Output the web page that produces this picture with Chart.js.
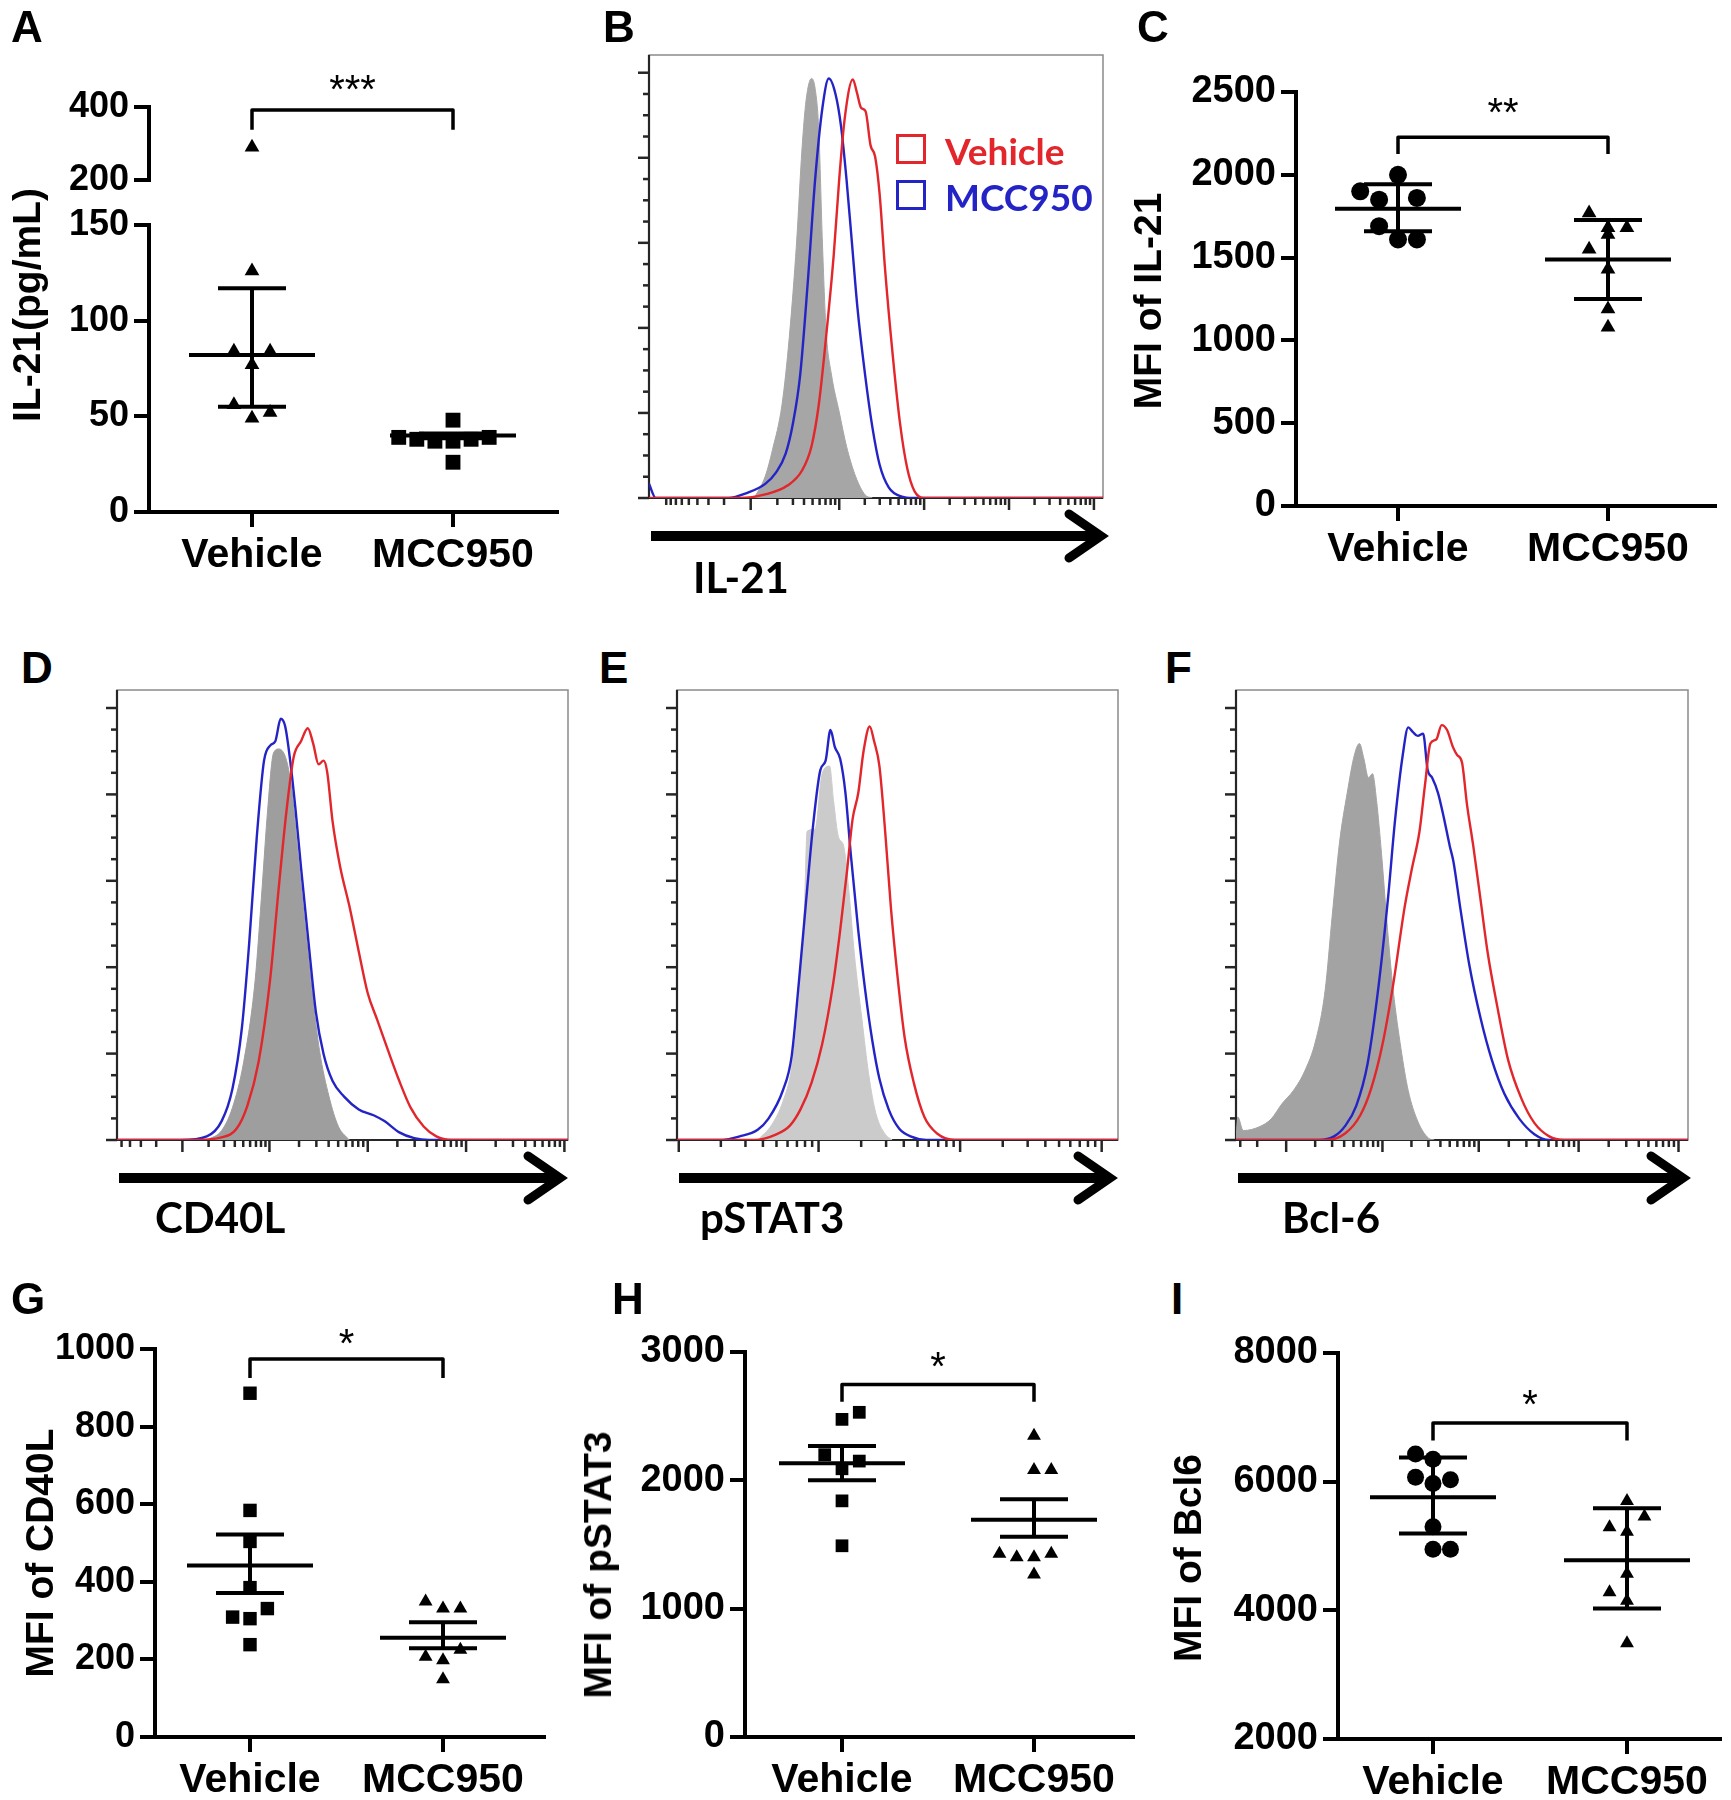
<!DOCTYPE html>
<html>
<head>
<meta charset="utf-8">
<title>IL-21 / Tfh panels</title>
<script src="https://cdn.jsdelivr.net/npm/chart.js@4.4.1/dist/chart.umd.min.js"></script>
<style>
  html, body { margin: 0; padding: 0; background: #fff; }
  #fig { position: relative; width: 1731px; height: 1800px; overflow: hidden; background: #fff; }
  #fig canvas { position: absolute; }
  .t { position: absolute; white-space: nowrap; line-height: 1; color: #000; }
  .letter { font: bold 44px 'Liberation Sans', Arial, sans-serif; }
  .ytitle { font: bold 39px 'Liberation Sans', Arial, sans-serif; transform: translate(-50%, -50%) rotate(-90deg); }
  .hlab { font: bold 42px Lato, 'Open Sans', sans-serif; transform: translateY(-50%); }
  .leg { font: bold 37px Lato, 'Open Sans', sans-serif; transform: translateY(-50%); }
  .sq { position: absolute; width: 24px; height: 24px; border: 3px solid; }
</style>
</head>
<body>
<div id="fig">
  <canvas id="cB"></canvas><canvas id="cD"></canvas><canvas id="cE"></canvas><canvas id="cF"></canvas>
  <canvas id="cA2"></canvas><canvas id="cA1"></canvas><canvas id="cC"></canvas>
  <canvas id="cG"></canvas><canvas id="cH"></canvas><canvas id="cI"></canvas>

  <div class="t letter" style="left:11px;top:2px">A</div>
  <div class="t letter" style="left:603px;top:2px">B</div>
  <div class="t letter" style="left:1137px;top:2px">C</div>
  <div class="t letter" style="left:21px;top:643px">D</div>
  <div class="t letter" style="left:599px;top:643px">E</div>
  <div class="t letter" style="left:1165px;top:643px">F</div>
  <div class="t letter" style="left:11px;top:1274px">G</div>
  <div class="t letter" style="left:612px;top:1274px">H</div>
  <div class="t letter" style="left:1171px;top:1274px">I</div>

  <div class="t ytitle" style="left:27px;top:305px">IL-21(pg/mL)</div>
  <div class="t ytitle" style="left:1148px;top:301px">MFI of IL-21</div>
  <div class="t ytitle" style="left:40px;top:1553px">MFI of CD40L</div>
  <div class="t ytitle" style="left:598px;top:1565px">MFI of pSTAT3</div>
  <div class="t ytitle" style="left:1188px;top:1558px">MFI of Bcl6</div>

  <div class="t hlab" style="left:693px;top:577px">IL-21</div>
  <div class="t hlab" style="left:155px;top:1217px">CD40L</div>
  <div class="t hlab" style="left:700px;top:1217px">pSTAT3</div>
  <div class="t hlab" style="left:1282px;top:1217px">Bcl-6</div>

  <div class="sq" style="left:896px;top:134px;border-color:#e2262b"></div>
  <div class="t leg" style="left:945px;top:150px;color:#e2262b">Vehicle</div>
  <div class="sq" style="left:896px;top:180px;border-color:#2424c6"></div>
  <div class="t leg" style="left:945px;top:196px;color:#2424c6">MCC950</div>
</div>

<script>
// ================= DATA =================
const groups = ['Vehicle', 'MCC950'];

// A: IL-21 (pg/mL), broken y axis
const aTicksLow = [0, 50, 100, 150];
const aTicksHigh = [200, 400];
const aVehicle = [290, 126, 84, 84, 77, 56, 52, 49];
const aVehicleJit = [0, 0, -1, 1, 0, -1, 1, 0];
const aMCC950 = [39, 38, 37, 48, 37, 38, 39, 26];
const aMCC950Jit = [-3, -2, -1, 0, 0, 1, 2, 0];
const aCenter = [82, 40];
const aUpper = [117, 41];
const aLower = [55, 38.5];
const aSig = { y: 392, leg: 338, star: 463, text: '***' };

// C: MFI of IL-21
const cTicks = [0, 500, 1000, 1500, 2000, 2500];
const cVehicle = [2000, 1900, 1850, 1860, 1690, 1610, 1610];
const cVehicleJit = [0, -2, -1, 1, -1, 0, 1];
const cMCC950 = [1770, 1680, 1680, 1640, 1550, 1430, 1190, 1080];
const cMCC950Jit = [-1, 0, 1, 0, -1, 0, 0, 0];
const cCenter = [1795, 1489];
const cUpper = [1943, 1727];
const cLower = [1659, 1250];
const cSig = { y: 2227, leg: 2125, star: 2410, text: '**' };

// G: MFI of CD40L
const gTicks = [0, 200, 400, 600, 800, 1000];
const gVehicle = [886, 584, 504, 385, 331, 309, 305, 238];
const gVehicleJit = [0, 0, 0, 0, 1, -1, 0, 0];
const gMCC950 = [349, 331, 331, 225, 207, 198, 149];
const gMCC950Jit = [-1, 0, 1, 1, -1, 0, 0];
const gCenter = [442, 256];
const gUpper = [522, 296];
const gLower = [371, 229];
const gSig = { y: 974, leg: 925, star: 1028, text: '*' };

// H: MFI of pSTAT3
const hTicks = [0, 1000, 2000, 3000];
const hVehicle = [2530, 2475, 2200, 2150, 2090, 1840, 1490];
const hVehicleJit = [1, 0, -1, 1, 0, 0, 0];
const hMCC950 = [2347, 2080, 2080, 1427, 1400, 1400, 1427, 1267];
const hMCC950Jit = [0, 0, 1, -2, -1, 0, 1, 0];
const hCenter = [2133, 1693];
const hUpper = [2267, 1853];
const hLower = [2000, 1560];
const hSig = { y: 2747, leg: 2613, star: 2933, text: '*' };

// I: MFI of Bcl6
const iTicks = [2000, 4000, 6000, 8000];
const iVehicle = [6430, 6350, 6070, 6030, 5970, 5300, 4950, 4950];
const iVehicleJit = [-1, 0, -1, 1, 0, 0, 0, 1];
const iMCC950 = [5700, 5460, 5290, 5220, 4570, 4280, 4150, 3490];
const iMCC950Jit = [0, 1, -1, 0, 0, -1, 0, 0];
const iCenter = [5756, 4780];
const iUpper = [6374, 5585];
const iLower = [5194, 4030];
const iSig = { y: 6910, leg: 6640, star: 7285, text: '*' };

// Histograms (x: position along the fluorescence axis 0-100, y: % of max count scale)
const bDecades = [22.4, 41.9, 60.6, 79.3, 98.0];
const bGrayX = [23.2, 25.6, 27.2, 29.3, 30.9, 32.5, 33.7, 34.6, 35.8, 36.6, 37.4, 38.2, 39.0, 40.2, 41.9, 43.5, 45.5, 47.6, 49.2];
const bGrayY = [0, 4.9, 10.9, 21.1, 36.3, 57.6, 78.8, 89.8, 94.7, 92.4, 83.0, 57.6, 38.0, 27.8, 19.4, 11.7, 4.9, 0.7, 0];
const bBlueX = [0, 1.5, 17.5, 21.5, 25.6, 28.0, 30.1, 31.7, 33.3, 35.0, 36.6, 38.2, 39.6, 41.1, 42.3, 43.5, 44.7, 45.9, 47.6, 49.2, 50.8, 52.8, 55.7, 58.1, 100];
const bBlueY = [3.2, 0, 0, 1.1, 3.2, 5.8, 10.0, 16.8, 27.8, 49.1, 72.0, 88.1, 94.7, 91.1, 83.9, 72.0, 57.6, 43.1, 27.8, 16.0, 7.5, 2.4, 0.3, 0, 0];
const bRedX = [0, 19.9, 25.6, 30.5, 33.7, 35.8, 37.4, 39.0, 40.7, 41.9, 43.1, 44.9, 45.8, 46.7, 47.7, 48.8, 49.8, 50.8, 52.0, 53.7, 55.3, 56.9, 58.5, 60.6, 100];
const bRedY = [0, 0, 0.8, 2.8, 6.2, 11.7, 21.1, 36.3, 55.0, 72.0, 85.6, 94.5, 91.5, 88.1, 87.3, 79.6, 77.1, 68.6, 51.6, 32.1, 16.8, 6.6, 1.5, 0, 0];

const dDecades = [14.5, 33.8, 55.6, 77.4, 99.2];
const dGrayX = [19.9, 23.2, 25.6, 28.1, 30.6, 32.2, 33.4, 34.7, 35.9, 37.6, 38.8, 40.0, 41.7, 43.3, 44.9, 47.0, 49.1, 51.5];
const dGrayY = [0, 2.1, 7.2, 17.4, 35.2, 56.4, 73.3, 86.0, 86.9, 84.3, 77.5, 64.8, 47.9, 32.6, 19.9, 9.7, 3.0, 0];
const dBlueX = [0, 14.1, 19.9, 23.2, 25.6, 27.7, 29.3, 31.0, 32.6, 34.0, 35.1, 36.3, 37.3, 38.4, 39.6, 40.8, 42.5, 44.1, 45.8, 47.8, 50.3, 53.6, 56.9, 59.3, 62.6, 65.9, 69.2, 100];
const dBlueY = [0, 0, 0.8, 4.2, 11.4, 25.0, 43.6, 67.4, 84.3, 87.7, 88.6, 93.6, 91.9, 84.3, 73.3, 60.6, 43.6, 28.4, 19.1, 13.1, 9.7, 6.8, 5.5, 4.2, 1.7, 0.4, 0, 0];
const dRedX = [0, 16.6, 23.2, 26.5, 28.9, 31.4, 33.9, 35.9, 37.6, 39.2, 40.8, 42.3, 43.5, 44.7, 45.8, 46.6, 47.8, 49.5, 51.5, 53.6, 55.6, 57.7, 60.1, 62.6, 65.1, 68.0, 70.8, 74.1, 100];
const dRedY = [0, 0, 0.6, 2.5, 7.6, 17.4, 35.2, 56.4, 73.3, 85.2, 88.6, 91.5, 88.1, 83.5, 84.3, 81.8, 70.8, 60.6, 52.1, 41.9, 32.6, 26.7, 19.9, 13.1, 7.2, 3.0, 0.8, 0, 0];

const eDecades = [0.4, 32.1, 64.2, 96.3];
const eGrayX = [18.3, 21.5, 24.0, 26.0, 27.6, 28.9, 29.5, 31.3, 32.9, 34.6, 35.5, 36.6, 37.8, 39.0, 40.2, 41.9, 43.5, 45.1, 47.2, 48.8];
const eGrayY = [0, 3.4, 8.5, 16.1, 30.5, 51.7, 68.6, 69.1, 81.4, 83.1, 75.4, 67.4, 65.3, 55.1, 41.5, 27.1, 14.4, 5.9, 1.3, 0];
const eBlueX = [0, 10.2, 14.2, 18.3, 20.7, 24.0, 26.0, 27.6, 29.3, 30.9, 32.5, 33.7, 34.8, 35.8, 37.0, 38.2, 39.4, 41.1, 42.7, 44.3, 45.9, 48.0, 50.4, 53.3, 56.5, 100];
const eBlueY = [0, 0, 0.8, 2.3, 4.7, 11.0, 18.6, 34.7, 53.4, 70.3, 82.2, 84.3, 91.1, 87.3, 84.7, 77.1, 63.6, 46.6, 33.1, 22.0, 13.6, 6.8, 2.5, 0.7, 0, 0];
const eRedX = [0, 17.5, 22.4, 25.6, 28.0, 30.5, 32.9, 35.4, 37.0, 38.6, 39.8, 41.1, 42.3, 43.7, 44.7, 45.9, 47.2, 48.5, 50.0, 51.6, 53.7, 56.1, 58.9, 63.0, 100];
const eRedY = [0, 0, 1.2, 3.2, 6.8, 12.7, 21.2, 34.7, 46.6, 60.2, 71.2, 77.1, 86.4, 91.9, 88.6, 83.1, 68.6, 51.7, 36.4, 22.9, 12.7, 5.1, 1.5, 0, 0];

const fDecades = [11.1, 32.4, 53.7, 75.8, 97.9];
const fGrayX = [0, 0.4, 1.6, 5.3, 7.8, 10.2, 12.7, 15.2, 17.6, 19.7, 21.3, 22.9, 24.6, 26.2, 27.3, 28.3, 29.3, 30.2, 31.1, 32.2, 33.4, 34.8, 36.5, 38.1, 40.2, 42.6, 43.9];
const fGrayY = [0, 5.1, 2.1, 3.0, 4.7, 8.1, 11.0, 15.3, 22.0, 33.1, 50.0, 66.1, 77.1, 85.6, 88.1, 84.7, 80.5, 81.4, 75.4, 63.6, 48.3, 33.1, 20.3, 11.0, 4.2, 0.4, 0];
const fBlueX = [0, 18.4, 21.7, 24.2, 26.6, 29.1, 31.6, 33.6, 35.2, 36.9, 38.1, 39.1, 40.2, 41.4, 42.4, 43.4, 44.7, 45.9, 47.3, 48.1, 49.6, 51.6, 54.1, 56.6, 59.4, 62.7, 66.0, 69.3, 100];
const fBlueY = [0, 0, 0.8, 3.2, 7.6, 16.9, 34.7, 53.4, 71.2, 85.6, 91.7, 90.7, 89.8, 90.3, 82.2, 80.5, 77.1, 72.0, 65.3, 61.9, 51.7, 39.0, 27.1, 17.8, 10.2, 4.7, 1.3, 0, 0];
const fRedX = [0, 20.1, 24.2, 27.5, 29.9, 32.4, 34.8, 37.3, 38.9, 40.6, 41.8, 43.0, 44.3, 45.5, 46.7, 48.0, 48.9, 50.0, 51.1, 52.5, 54.1, 55.7, 57.8, 60.2, 63.1, 66.0, 69.3, 72.5, 100];
const fRedY = [0, 0, 1.5, 5.5, 11.4, 21.2, 34.7, 51.7, 60.2, 68.6, 78.8, 88.1, 89.0, 92.2, 91.1, 87.3, 85.6, 83.9, 74.6, 65.3, 53.4, 41.5, 29.7, 17.8, 9.3, 3.8, 0.8, 0, 0];

// ================= STYLE / LAYOUT =================
const FONT = "'Liberation Sans', Arial, sans-serif";
const RED = '#e2262b', BLUE = '#2424c6';
const JIT = 0.09;            // x-units per jitter step
const MEAN_HALF = 63, CAP_HALF = 34;

function place(cv, left, top, w, h) {
  cv.width = w; cv.height = h;
  cv.style.left = left + 'px'; cv.style.top = top + 'px';
  cv.style.width = w + 'px'; cv.style.height = h + 'px';
}
function seg(ctx, x1, y1, x2, y2) { ctx.beginPath(); ctx.moveTo(x1, y1); ctx.lineTo(x2, y2); ctx.stroke(); }

const statPlugin = {
  id: 'stat',
  afterDatasetsDraw(chart, _a, o) {
    if (!o) return;
    const ctx = chart.ctx, x = chart.scales.x, y = chart.scales.y;
    ctx.save();
    ctx.strokeStyle = '#000'; ctx.fillStyle = '#000'; ctx.lineCap = 'butt';
    if (o.center) {
      ctx.lineWidth = 4;
      o.center.forEach((c, i) => {
        const px = x.getPixelForValue(i + 1);
        const pc = y.getPixelForValue(c), pu = y.getPixelForValue(o.upper[i]), pl = y.getPixelForValue(o.lower[i]);
        seg(ctx, px - MEAN_HALF, pc, px + MEAN_HALF, pc);
        seg(ctx, px, pu, px, pl);
        seg(ctx, px - CAP_HALF, pu, px + CAP_HALF, pu);
        seg(ctx, px - CAP_HALF, pl, px + CAP_HALF, pl);
      });
    }
    if (o.sig) {
      const x1 = x.getPixelForValue(1), x2 = x.getPixelForValue(2);
      const yb = y.getPixelForValue(o.sig.y), yl = y.getPixelForValue(o.sig.leg);
      ctx.lineWidth = 3.5; ctx.lineJoin = 'round';
      ctx.beginPath(); ctx.moveTo(x1, yl); ctx.lineTo(x1, yb); ctx.lineTo(x2, yb); ctx.lineTo(x2, yl); ctx.stroke();
      ctx.font = '40px ' + FONT; ctx.textAlign = 'center'; ctx.textBaseline = 'middle';
      ctx.fillText(o.sig.text, (x1 + x2) / 2, y.getPixelForValue(o.sig.star) + 8);
    }
    ctx.restore();
  }
};

function dots(values, jit, group, style, r, keep) {
  const data = [];
  values.forEach((v, i) => { if (!keep || keep(v)) data.push({ x: group + jit[i] * JIT, y: v }); });
  return { data, pointStyle: style, pointRadius: r, backgroundColor: '#000', borderColor: '#000', borderWidth: 0, clip: false };
}

function scatterPanel(id, box, o) {
  const showX = o.showX !== false;
  const Wy = 150, Hx = showX ? 90 : 0, padTop = 90, padRight = 14, padBottom = showX ? 0 : 34;
  const cv = document.getElementById(id);
  const W = Wy + box.r - box.l + padRight, H = padTop + box.b - box.t + Hx + padBottom;
  place(cv, box.l - Wy, box.t - padTop, W, H);
  const ppu = box.mx - box.vx;
  const xmin = 1 - (box.vx - box.l) / ppu, xmax = 2 + (box.r - box.mx) / ppu;
  const axisGrid = { display: true, drawOnChartArea: false, drawTicks: true, tickLength: 15, lineWidth: 4, color: '#000' };
  const axisBorder = { display: true, width: 4, color: '#000' };
  return new Chart(cv, {
    type: 'scatter',
    data: { datasets: o.datasets },
    options: {
      responsive: false, animation: false, events: [],
      layout: { padding: { top: padTop, right: padRight, left: 0, bottom: padBottom } },
      plugins: { legend: { display: false }, tooltip: { enabled: false }, stat: o.stat },
      scales: {
        x: {
          type: 'linear', display: showX, min: xmin, max: xmax,
          afterBuildTicks: s => { s.ticks = [1, 2].map(v => ({ value: v })); },
          afterFit: s => { s.height = Hx; },
          ticks: { callback: v => groups[v - 1], color: '#000', font: { family: FONT, weight: 'bold', size: 41 }, padding: 4, autoSkip: false, maxRotation: 0 },
          grid: axisGrid, border: axisBorder
        },
        y: {
          type: 'linear', min: o.ticks[0], max: o.ticks[o.ticks.length - 1],
          afterBuildTicks: s => { s.ticks = o.ticks.map(v => ({ value: v })); },
          afterFit: s => { s.width = Wy; },
          ticks: { callback: v => String(v), color: '#000', font: { family: FONT, weight: 'bold', size: o.yFont || 38 }, padding: 5 },
          grid: axisGrid, border: axisBorder
        }
      }
    },
    plugins: [statPlugin]
  });
}

const histPlugin = {
  id: 'histFrame',
  beforeDatasetsDraw(chart, _a, o) {
    const { ctx, chartArea: a } = chart;
    const x = chart.scales.x, y = chart.scales.y;
    ctx.save();
    ctx.lineWidth = 1.5; ctx.strokeStyle = '#8a8a8a';
    ctx.strokeRect(a.left, a.top, a.right - a.left, a.bottom - a.top);
    ctx.strokeStyle = '#262626'; ctx.lineWidth = 2.2;
    seg(ctx, a.left, a.top, a.left, a.bottom);
    seg(ctx, a.left, a.bottom, a.right, a.bottom);
    ctx.lineWidth = 2.5;
    // y ticks (4.8 steps, every 4th major)
    for (let i = 0; i * 4.8 <= 100; i++) {
      const py = y.getPixelForValue(i * 4.8), len = i % 4 === 0 ? 11 : 6;
      seg(ctx, a.left - len, py, a.left, py);
    }
    // x ticks: decades + log minors
    const d = o.decades, sp = d[1] - d[0];
    const minor = [];
    for (let k = 2; k <= 9; k++) minor.push(d[0] - Math.log10(k) * sp);
    for (let i = 0; i < d.length; i++) {
      const next = i + 1 < d.length ? d[i + 1] : d[i] + sp;
      for (let k = 2; k <= 9; k++) minor.push(d[i] + Math.log10(k) * (next - d[i]));
    }
    minor.filter(v => v >= 0 && v <= 100).forEach(v => { const px = x.getPixelForValue(v); seg(ctx, px, a.bottom, px, a.bottom + 7); });
    d.forEach(v => { const px = x.getPixelForValue(v); seg(ctx, px, a.bottom, px, a.bottom + 12); });
    ctx.restore();
  },
  afterDraw(chart, _a, o) {
    const { ctx, chartArea: a } = chart;
    ctx.save();
    const ay = a.bottom + 38, x0 = a.left + 2, x1 = a.right - o.arrowInset;
    ctx.strokeStyle = '#000'; ctx.lineWidth = 10; ctx.lineCap = 'butt';
    seg(ctx, x0, ay, x1 - 6, ay);
    ctx.lineWidth = 9; ctx.lineJoin = 'miter'; ctx.lineCap = 'round';
    ctx.beginPath(); ctx.moveTo(x1 - 32, ay - 22); ctx.lineTo(x1, ay); ctx.lineTo(x1 - 32, ay + 22); ctx.stroke();
    ctx.restore();
  }
};

function curve(xs, ys) { return xs.map((v, i) => ({ x: v, y: ys[i] })); }

function histPanel(id, box, o) {
  const padL = 22, padR = 6, padT = 6, padB = 72;
  const cv = document.getElementById(id);
  place(cv, box.l - padL, box.t - padT, box.r - box.l + padL + padR, box.b - box.t + padT + padB);
  const line = (xs, ys, color, order) => ({ data: curve(xs, ys), fill: false, borderColor: color, borderWidth: 2.4, pointRadius: 0, cubicInterpolationMode: 'monotone', order });
  return new Chart(cv, {
    type: 'line',
    data: { datasets: [
      { data: curve(o.grayX, o.grayY), fill: 'origin', backgroundColor: o.grayColor, borderColor: o.grayColor, borderWidth: 1, pointRadius: 0, cubicInterpolationMode: 'monotone', order: 3 },
      line(o.blueX, o.blueY, BLUE, 2),
      line(o.redX, o.redY, RED, 1)
    ]},
    options: {
      responsive: false, animation: false, events: [],
      layout: { padding: { left: padL, right: padR, top: padT, bottom: padB } },
      plugins: { legend: { display: false }, tooltip: { enabled: false }, histFrame: { decades: o.decades, arrowInset: o.arrowInset } },
      scales: { x: { type: 'linear', display: false, min: 0, max: 100 }, y: { type: 'linear', display: false, min: 0, max: 100 } }
    },
    plugins: [histPlugin]
  });
}

// ================= BUILD =================
const boxA = { l: 149, r: 557, vx: 252, mx: 453 };
scatterPanel('cA2', Object.assign({ t: 107, b: 180 }, boxA), {
  showX: false, ticks: aTicksHigh, yFont: 36,
  datasets: [dots(aVehicle, aVehicleJit, 1, 'triangle', 8.5, v => v >= 200)],
  stat: { sig: aSig }
});
scatterPanel('cA1', Object.assign({ t: 225, b: 512 }, boxA), {
  ticks: aTicksLow, yFont: 36,
  datasets: [dots(aVehicle, aVehicleJit, 1, 'triangle', 8.5, v => v <= 150), dots(aMCC950, aMCC950Jit, 2, 'rect', 10.5)],
  stat: { center: aCenter, upper: aUpper, lower: aLower }
});
scatterPanel('cC', { l: 1296, r: 1715, t: 92, b: 506, vx: 1398, mx: 1608 }, {
  ticks: cTicks,
  datasets: [dots(cVehicle, cVehicleJit, 1, 'circle', 9), dots(cMCC950, cMCC950Jit, 2, 'triangle', 8.5)],
  stat: { center: cCenter, upper: cUpper, lower: cLower, sig: cSig }
});
scatterPanel('cG', { l: 155, r: 544, t: 1349, b: 1737, vx: 250, mx: 443 }, {
  ticks: gTicks, yFont: 36,
  datasets: [dots(gVehicle, gVehicleJit, 1, 'rect', 9.5), dots(gMCC950, gMCC950Jit, 2, 'triangle', 8)],
  stat: { center: gCenter, upper: gUpper, lower: gLower, sig: gSig }
});
scatterPanel('cH', { l: 745, r: 1133, t: 1352, b: 1737, vx: 842, mx: 1034 }, {
  ticks: hTicks,
  datasets: [dots(hVehicle, hVehicleJit, 1, 'rect', 9), dots(hMCC950, hMCC950Jit, 2, 'triangle', 8)],
  stat: { center: hCenter, upper: hUpper, lower: hLower, sig: hSig }
});
scatterPanel('cI', { l: 1338, r: 1720, t: 1353, b: 1739, vx: 1433, mx: 1627 }, {
  ticks: iTicks,
  datasets: [dots(iVehicle, iVehicleJit, 1, 'circle', 8.5), dots(iMCC950, iMCC950Jit, 2, 'triangle', 8)],
  stat: { center: iCenter, upper: iUpper, lower: iLower, sig: iSig }
});

histPanel('cB', { l: 649, r: 1103, t: 55, b: 498 }, { decades: bDecades, arrowInset: 2, grayColor: '#a6a6a6', grayX: bGrayX, grayY: bGrayY, blueX: bBlueX, blueY: bBlueY, redX: bRedX, redY: bRedY });
histPanel('cD', { l: 117, r: 568, t: 690, b: 1140 }, { decades: dDecades, arrowInset: 8, grayColor: '#9e9e9e', grayX: dGrayX, grayY: dGrayY, blueX: dBlueX, blueY: dBlueY, redX: dRedX, redY: dRedY });
histPanel('cE', { l: 677, r: 1118, t: 690, b: 1140 }, { decades: eDecades, arrowInset: 8, grayColor: '#cbcbcb', grayX: eGrayX, grayY: eGrayY, blueX: eBlueX, blueY: eBlueY, redX: eRedX, redY: eRedY });
histPanel('cF', { l: 1236, r: 1688, t: 690, b: 1140 }, { decades: fDecades, arrowInset: 5, grayColor: '#a3a3a3', grayX: fGrayX, grayY: fGrayY, blueX: fBlueX, blueY: fBlueY, redX: fRedX, redY: fRedY });
</script>
</body>
</html>
